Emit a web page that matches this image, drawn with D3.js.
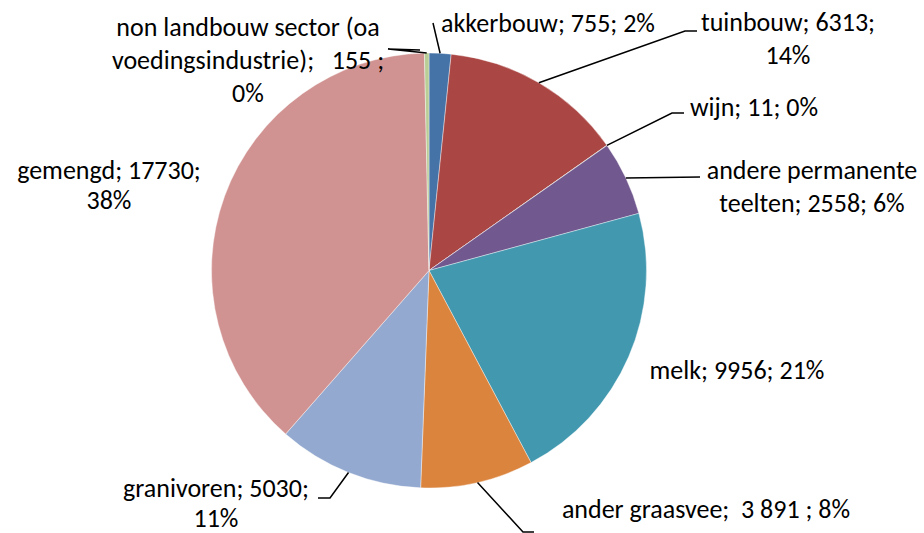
<!DOCTYPE html>
<html>
<head>
<meta charset="utf-8">
<script src="https://cdn.jsdelivr.net/npm/d3@7"></script>
<style>
  html, body { margin: 0; padding: 0; background: #fff; }
  svg { display: block; }
</style>
</head>
<body>
<div id="chart"></div>
<script>
// data
const categories = ['akkerbouw', 'tuinbouw', 'wijn', 'andere permanente teelten', 'melk',
  'ander graasvee', 'granivoren', 'gemengd', 'non landbouw sector (oa voedingsindustrie)'];
const values = [755, 6313, 11, 2558, 9956, 3891, 5030, 17730, 155];
// label text as printed in the chart
const labelLines = [
  ['akkerbouw; 755; 2%'],
  ['tuinbouw; 6313;', '14%'],
  ['wijn; 11; 0%'],
  ['andere permanente', 'teelten; 2558; 6%'],
  ['melk; 9956; 21%'],
  ['ander graasvee;  3 891 ; 8%'],
  ['granivoren; 5030;', '11%'],
  ['gemengd; 17730;', '38%'],
  ['non landbouw sector (oa', 'voedingsindustrie);   155 ;', '0%']
];
const colors = ['#4572A7', '#AA4643', '#89A54E', '#71588F', '#4198AF',
  '#DB843D', '#93A9CF', '#D19392', '#B9CD96'];

const width = 924;
const height = 533;
const cx = 429, cy = 270.5;
const radius = 217.5;
const fontSize = 26;

// label layout: centre x, centre y of first line, line height, leader elbow / end (null = no leader)
const labelLayout = [
  { x: 548, y: 23, lh: 33, leader: [[433, 23]] },
  { x: 788, y: 22, lh: 33, leader: [[685, 31], [697, 31]] },
  { x: 754, y: 107, lh: 33, leader: [[672, 113], [684, 113]] },
  { x: 812, y: 170, lh: 33, leader: [[700, 177]] },
  { x: 737, y: 370, lh: 33, leader: null },
  { x: 706, y: 509, lh: 33, leader: [[523, 532], [534, 532]] },
  { x: 216, y: 488, lh: 30, leader: [[330, 498], [318, 498]] },
  { x: 109, y: 170, lh: 30, leader: null },
  { x: 248, y: 27, lh: 33, leader: [[388, 49], [420, 50]] }
];

const svg = d3.select('#chart')
  .append('svg')
  .attr('width', width)
  .attr('height', height);

const g = svg.append('g')
  .attr('transform', `translate(${cx}, ${cy})`);

const pie = d3.pie()
  .value((d) => d.value)
  .sort(null);

const arc = d3.arc()
  .innerRadius(0)
  .outerRadius(radius);

const dataset = categories.map((c, i) => ({ label: c, value: values[i] }));
const arcs = pie(dataset);

g.selectAll('path.slice')
  .data(arcs)
  .enter().append('path')
  .attr('class', 'slice')
  .attr('d', arc)
  .attr('fill', (d, i) => colors[i])
  .attr('stroke', '#fff')
  .attr('stroke-width', 0.4);

// leader lines: start on the slice edge at its mid angle
svg.selectAll('polyline')
  .data(arcs.filter((d, i) => labelLayout[i].leader))
  .enter().append('polyline')
  .attr('points', (d) => {
    const i = d.index;
    const mid = (d.startAngle + d.endAngle) / 2;
    const p = [cx + radius * Math.sin(mid), cy - radius * Math.cos(mid)];
    return [p].concat(labelLayout[i].leader).map((q) => q.join(',')).join(' ');
  })
  .style('fill', 'none')
  .style('stroke', '#000')
  .style('stroke-width', '1.5px');

const labels = svg.selectAll('text.lbl')
  .data(arcs)
  .enter().append('text')
  .attr('class', 'lbl')
  .attr('text-anchor', 'middle')
  .style('font-family', 'Carlito, Calibri, Lato, sans-serif')
  .style('font-size', fontSize + 'px')
  .style('fill', '#000')
  .style('white-space', 'pre');

labels.each(function(d) {
  const i = d.index;
  const lay = labelLayout[i];
  d3.select(this).selectAll('tspan')
    .data(labelLines[i])
    .enter().append('tspan')
    .attr('x', lay.x)
    .attr('y', (t, j) => lay.y + j * lay.lh)
    .attr('dy', '0.35em')
    .text((t) => t);
});
</script>
</body>
</html>
